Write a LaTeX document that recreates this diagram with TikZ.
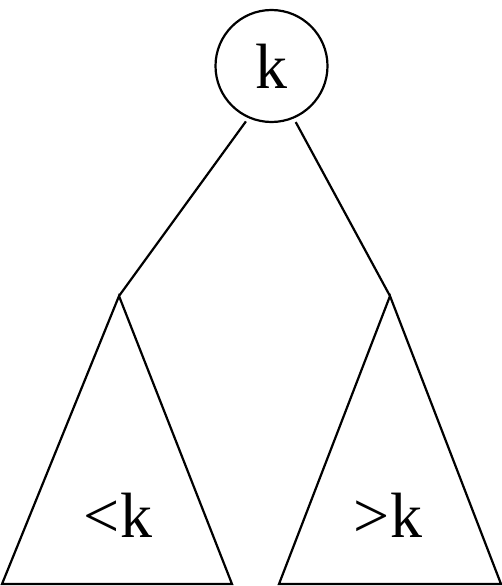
\documentclass[tikz,border=0pt]{standalone}
\usepackage{fontspec}
\setmainfont{Liberation Serif}
\begin{document}
\begin{tikzpicture}[x=1pt,y=-1pt,
  edge/.style={line width=2.2pt, line join=miter},
  lbl/.style={font=\fontsize{64}{64}\selectfont, inner sep=0pt},
  keynode/.style={circle, draw, line width=2.2pt, minimum size=112pt, inner sep=0pt, font=\fontsize{64}{64}\selectfont}]
\useasboundingbox (0,0) rectangle (502,586);
\node[keynode] (root) at (271.5,66) {k};
\coordinate (la) at (119,296);
\coordinate (ra) at (390,296);
\coordinate (lbl1) at (2,584);
\coordinate (lbr1) at (232,584);
\coordinate (rbl1) at (279,584);
\coordinate (rbr1) at (501,584);
\draw[edge, shorten <=4pt] (root.246) -- (la);
\draw[edge, shorten <=4pt] (root.293) -- (ra);
\draw[edge] (la) -- (lbr1) -- (lbl1) -- cycle;
\draw[edge] (ra) -- (rbr1) -- (rbl1) -- cycle;
\node[lbl, anchor=base] (lt) at (118,537) {<k};
\node[lbl, anchor=base] (rt) at (388,537) {>k};
\end{tikzpicture}
\end{document}
